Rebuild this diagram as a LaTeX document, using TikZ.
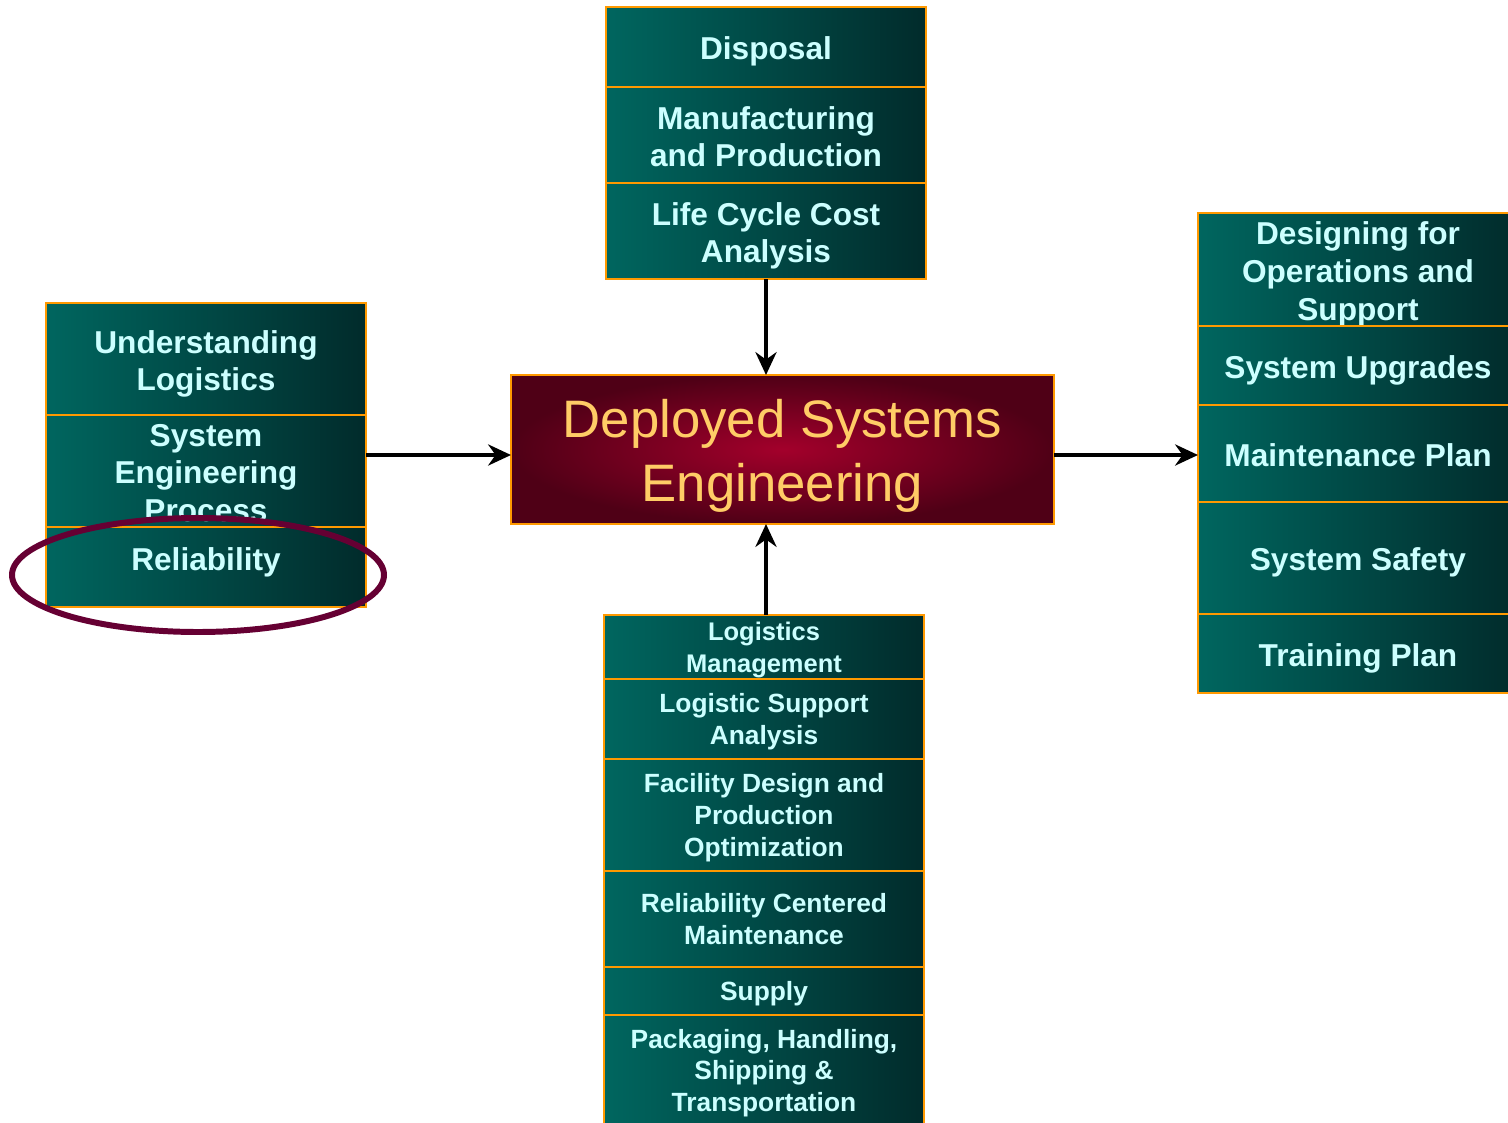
\documentclass[tikz,border=0pt]{standalone}
\usepackage{fontspec}
\setmainfont{Liberation Sans}
\usepackage{tikz}
\usetikzlibrary{positioning}
\usetikzlibrary{arrows.meta}
\definecolor{boxleft}{HTML}{00665F}
\definecolor{boxright}{HTML}{012B2B}
\definecolor{rim}{HTML}{FF9900}
\definecolor{itemtext}{HTML}{CCFFFF}
\definecolor{hubin}{HTML}{A3002B}
\definecolor{hubout}{HTML}{4F0016}
\definecolor{hubtext}{HTML}{FFCC66}
\definecolor{ringcol}{HTML}{660033}
\tikzset{
  item/.style={rectangle,draw=rim,line width=1.1pt,left color=boxleft,
    right color=boxright,text=itemtext,align=center,inner sep=0pt,
    outer sep=0pt,minimum width=6.4cm,minimum height=#1,
    font=\bfseries\fontsize{18}{21.5}\selectfont,
    text height=17.5pt,text depth=2.8pt},
  lines/.style={text height=17.5pt+(#1-1)*21.5pt},
  smalltext/.style={font=\bfseries\fontsize{15}{18.1}\selectfont,
    text height=14pt,text depth=3.2pt},
  slines/.style={text height=14pt+(#1-1)*18.1pt},
  hub/.style={rectangle,draw=rim,line width=1.1pt,inner color=hubin,
    outer color=hubout,text=hubtext,align=center,inner sep=0pt,
    outer sep=0pt,minimum width=10.86cm,minimum height=2.98cm,
    font=\fontsize{30}{36.3}\selectfont,text height=65.8pt,text depth=6.3pt},
  flow/.style={-{Stealth[length=13pt,width=12pt]},line width=2.3pt},
  circled/.style={draw=ringcol,line width=3.4pt}
}
\begin{document}
\begin{tikzpicture}
  \useasboundingbox (0,0) rectangle (30.16,-22.46);
  \node (hub) [hub] at (15.65,-8.99) {Deployed Systems\\Engineering};

  \node (disp) [item=1.6cm] at (15.32,-0.94) {Disposal};
  \node (manu) [item=1.92cm,lines=2,below=0pt of disp] {Manufacturing\\and Production};
  \node (lcc) [item=1.92cm,lines=2,below=0pt of manu] {Life Cycle Cost\\Analysis};

  \node (und) [item=2.24cm,lines=2] at (4.12,-7.18) {Understanding\\Logistics};
  \node (sep) [item=2.24cm,lines=3,below=0pt of und] {System\\Engineering\\Process};
  \node (rel) [item=1.6cm,text depth=14pt,below=0pt of sep] {Reliability};

  \node (des) [item=2.26cm,lines=3] at (27.16,-5.39) {Designing for\\Operations and\\Support};
  \node (upg) [item=1.58cm,below=0pt of des] {System Upgrades};
  \node (mnt) [item=1.94cm,below=0pt of upg] {Maintenance Plan};
  \node (saf) [item=2.24cm,below=0pt of mnt] {System Safety};
  \node (trn) [item=1.58cm,below=0pt of saf] {Training Plan};

  \node (logm) [item=1.28cm,smalltext,slines=2,font=\bfseries\fontsize{14.5}{18.1}\selectfont] at (15.28,-12.94) {Logistics\\Management};
  \node (lsa) [item=1.6cm,smalltext,slines=2,below=0pt of logm] {Logistic Support\\Analysis};
  \node (fac) [item=2.24cm,smalltext,slines=3,below=0pt of lsa] {Facility Design and\\Production\\Optimization};
  \node (rcm) [item=1.92cm,smalltext,slines=2,below=0pt of fac] {Reliability Centered\\Maintenance};
  \node (sup) [item=0.96cm,smalltext,below=0pt of rcm] {Supply};
  \node (phs) [item=2.42cm,smalltext,slines=3,text depth=9pt,below=0pt of sup] {Packaging, Handling,\\Shipping \&\\Transportation};

  \draw[flow] (lcc.south) -- (lcc.south |- hub.north);
  \draw[flow] (logm.north -| lcc.south) -- (lcc.south |- hub.south);
  \draw[flow] ([yshift=-0.11cm]hub.west -| und.east) -- ([yshift=-0.11cm]hub.west);
  \draw[flow] ([yshift=-0.11cm]hub.east) -- ([yshift=-0.11cm]hub.east -| des.west);

  \draw[circled] ([shift={(-0.16,-0.16)}]rel.center) ellipse [x radius=3.72cm,y radius=1.14cm];
\end{tikzpicture}
\end{document}
